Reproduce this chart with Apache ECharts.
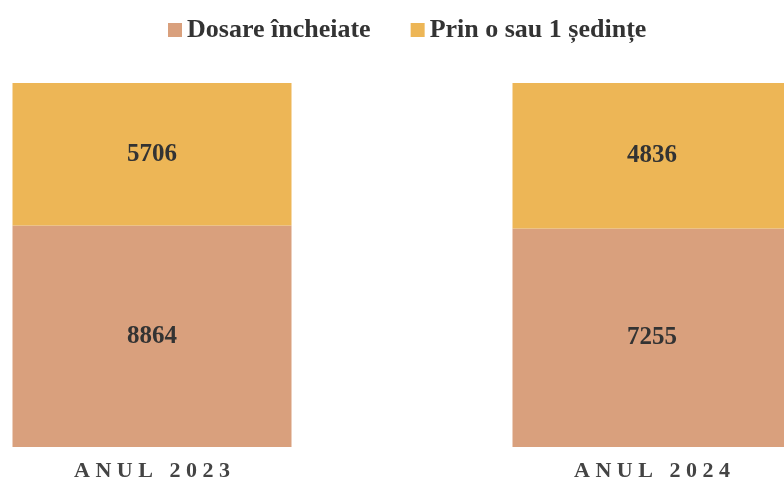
<!DOCTYPE html>
<html>
<head>
<meta charset="utf-8">
<script src="https://cdn.jsdelivr.net/npm/echarts@6/dist/echarts.min.js"></script>
<style>
  html, body { margin: 0; padding: 0; background: #fff; }
  #chart { width: 784px; height: 491px; }
</style>
</head>
<body>
<div id="chart"></div>
<script>
  // datele din grafic
  var years = ['ANUL 2023', 'ANUL 2024'];
  var dosareIncheiate = [8864, 7255];
  var prinOSedinta = [5706, 4836];

  // procente pentru bare 100% stivuite
  function share(arr, i) {
    return arr[i] / (dosareIncheiate[i] + prinOSedinta[i]) * 100;
  }
  var dosarePct = years.map(function (y, i) { return share(dosareIncheiate, i); });
  var sedintePct = years.map(function (y, i) { return share(prinOSedinta, i); });

  var font = '"Liberation Serif", "Times New Roman", serif';
  var myChart = echarts.init(document.getElementById('chart'));

  var labelStyle = {
    show: true,
    position: 'inside',
    fontFamily: font,
    fontWeight: 'bold',
    fontSize: 25,
    color: '#333'
  };

  myChart.setOption({
    animation: false,
    legend: {
      left: 163,
      top: 12,
      itemWidth: 14,
      itemHeight: 14,
      itemGap: 40,
      icon: 'rect',
      textStyle: {
        fontFamily: font,
        fontWeight: 'bold',
        fontSize: 26,
        color: '#333'
      },
      data: ['Dosare încheiate', 'Prin o sau 1 ședințe']
    },
    grid: {
      left: -98,
      width: 1000,
      top: 83,
      height: 364,
      outerBoundsMode: 'none'
    },
    xAxis: {
      type: 'category',
      data: years,
      axisLine: { show: false },
      axisTick: { show: false },
      axisLabel: {
        margin: 13,
        fontFamily: font,
        fontWeight: 'bold',
        fontSize: 22,
        color: '#444',
        formatter: function (v) {
          return v.split('').join(' ');
        }
      }
    },
    yAxis: {
      type: 'value',
      min: 0,
      max: 100,
      show: false
    },
    series: [
      {
        name: 'Dosare încheiate',
        type: 'bar',
        stack: 'total',
        barWidth: 279,
        data: dosarePct,
        itemStyle: { color: '#D9A07D' },
        label: Object.assign({}, labelStyle, {
          formatter: function (p) { return dosareIncheiate[p.dataIndex]; }
        })
      },
      {
        name: 'Prin o sau 1 ședințe',
        type: 'bar',
        stack: 'total',
        barWidth: 279,
        data: sedintePct,
        itemStyle: { color: '#EDB656' },
        label: Object.assign({}, labelStyle, {
          formatter: function (p) { return prinOSedinta[p.dataIndex]; }
        })
      }
    ]
  });
</script>
</body>
</html>
